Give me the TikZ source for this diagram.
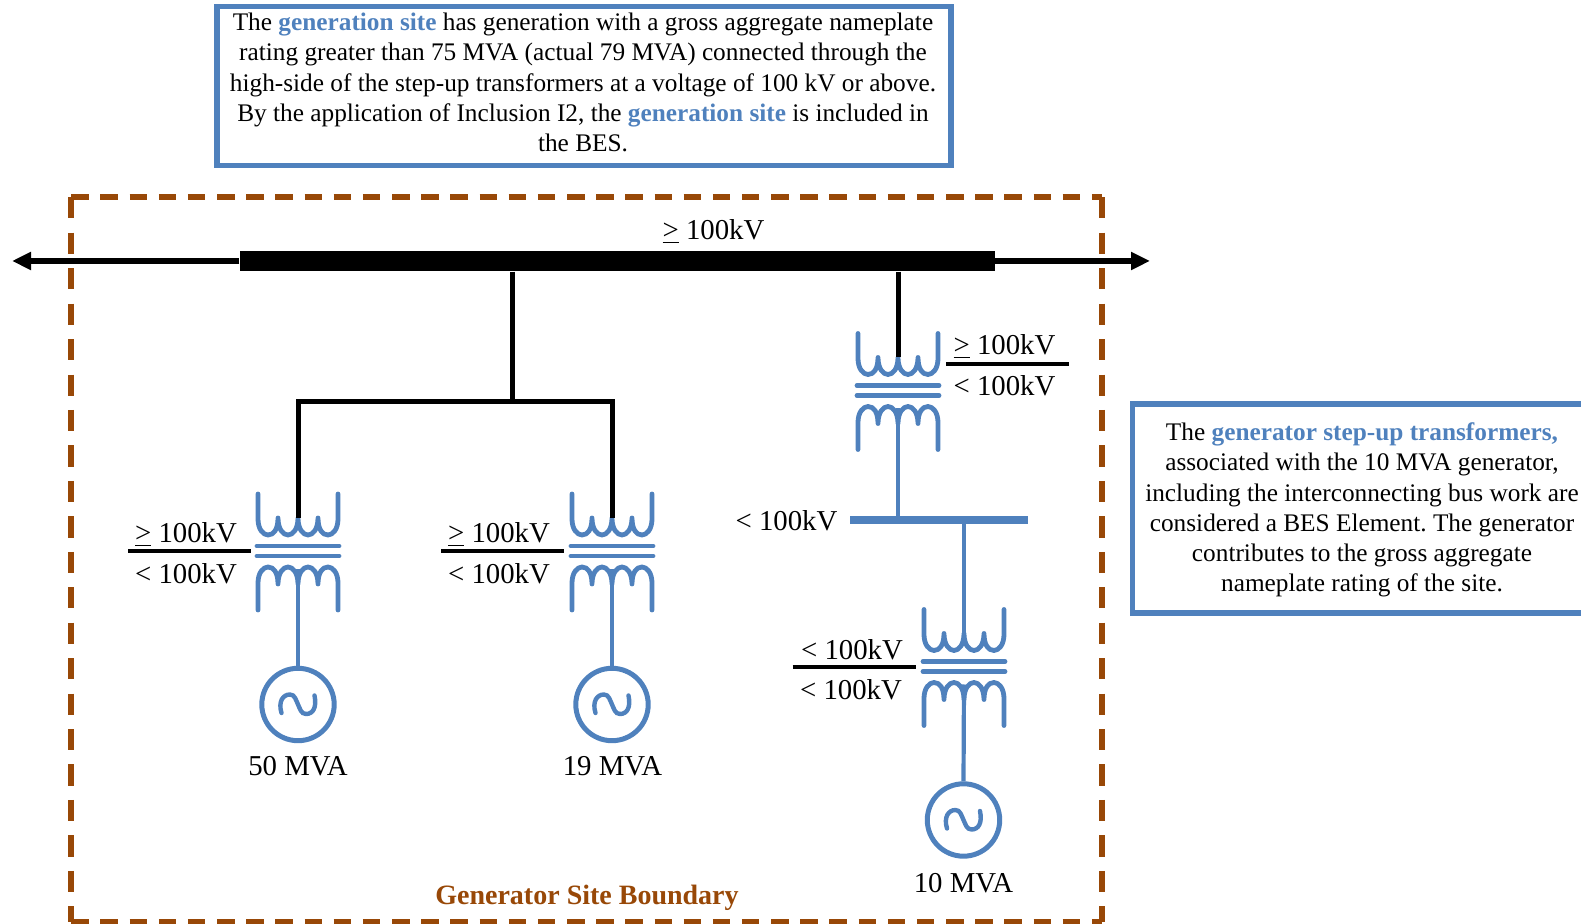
\documentclass[tikz,border=0pt]{standalone}
\usepackage{fontspec}
\setmainfont{Liberation Serif}
\usetikzlibrary{arrows.meta}
\definecolor{bl}{HTML}{4F81BD}
\definecolor{br}{HTML}{984807}
\newcommand{\bluebf}[1]{\textcolor{bl}{\textbf{#1}}}
\newcommand{\ugt}{\underline{>}}
\tikzset{
  x=0.5pt,y=-0.5pt,
  every node/.style={inner sep=0pt},
  label/.style={align=center,font=\fontsize{14.4}{17}\selectfont},
  para/.style={align=center,font=\fontsize{12.65}{15.12}\selectfont\frenchspacing},
  rule/.style={draw=black,line width=2pt},
  wire/.style={draw=black,line width=2.5pt},
  bwire/.style={draw=bl,line width=2.1pt},
  coil/.style={draw=bl,line width=2.4pt,line cap=round,line join=round},
  tipline/.style={draw=black,line width=2.6pt,-{Triangle[length=9.5pt,width=8.5pt]}},
  infobox/.style={draw=bl,line width=2.6pt},
  hdash/.style={draw=br,line width=2.85pt,dash pattern=on 8.75pt off 5.83pt},
  vdash/.style={draw=br,line width=2.85pt,dash pattern=on 10.6pt off 7.125pt},
  gen/.style={circle,draw=bl,line width=2.5pt,minimum size=36.2pt,
    path picture={\begin{scope}[shift={(path picture bounding box.center)}]
      \draw[bl,line width=2.2pt,line cap=round] (-16.5,8.5)
      .. controls (-20,-3) and (-15,-10) .. (-8,-10)
      .. controls (-3,-10) and (-2,-4) .. (0,0)
      .. controls (2,4) and (3,9.5) .. (8,9.5)
      .. controls (15,9.5) and (19,3) .. (16.5,-9);\end{scope}}},
  pics/xfmr/.style={code={
    \path[coil] (-40,-57) -- (-40,-32)
      .. controls (-40,-22) and (-35,-16) .. (-30,-16)
      .. controls (-24,-16) and (-20,-22) .. (-20,-33)
      .. controls (-20,-22) and (-15,-16) .. (-10,-16)
      .. controls (-5,-16) and (0,-22) .. (0,-33)
      .. controls (0,-22) and (5,-16) .. (10,-16)
      .. controls (15,-16) and (20,-22) .. (20,-33)
      .. controls (20,-22) and (24,-16) .. (30,-16)
      .. controls (35,-16) and (40,-22) .. (40,-32) -- (40,-57);
    \path[coil] (-40,59) -- (-40,32)
      .. controls (-40,22) and (-35,16) .. (-30,16)
      .. controls (-24,16) and (-20,22) .. (-20,33)
      .. controls (-20,22) and (-15,16) .. (-10,16)
      .. controls (-5,16) and (0,22) .. (0,33)
      .. controls (0,22) and (5,16) .. (10,16)
      .. controls (15,16) and (20,22) .. (20,33)
      .. controls (20,22) and (24,16) .. (30,16)
      .. controls (35,16) and (40,22) .. (40,32) -- (40,59);
    \path[coil] (-41,-5) -- (41,-5) (-41,5) -- (41,5);
    \coordinate (-top) at (0,-33);
    \coordinate (-mid) at (0,18);
  }}
}
\begin{document}
\begin{tikzpicture}
\useasboundingbox (0,0) rectangle (1581,924);
% boundary
\coordinate (nw) at (71.3,197.3); \coordinate (ne) at (1102,197.3);
\coordinate (sw) at (71.3,921.7); \coordinate (se) at (1102,921.7);
\path[hdash] (nw) -- (ne);
\path[hdash] (sw) -- (se);
\path[vdash] (nw) -- (sw);
\path[vdash] (ne) -- (se);
% text box top
\node[infobox,minimum width=367pt,minimum height=79.7pt] (topbox) at (584,86.2) {};
\node[para] (toptext) at (583,82.5) {The \bluebf{generation site} has generation with a gross aggregate nameplate\\
rating greater than 75 MVA (actual 79 MVA) connected through the\\
high-side of the step-up transformers at a voltage of 100 kV or above.\\
By the application of Inclusion I2, the \bluebf{generation site} is included in\\
the BES.};
% bus
\node[fill=black,minimum width=377.5pt,minimum height=10.25pt] (bus) at (617.25,261) {};
\coordinate (lefttip) at (12,261);
\coordinate (righttip) at (1150,261);
\path[tipline] (bus.west) -- (lefttip);
\path[tipline] (bus.east) -- (righttip);
\node[label] (lblbus) at (713.5,232) {\ugt{} 100kV};
% transformers
\pic (t1) at (298,551) {xfmr};
\pic (t2) at (612,551) {xfmr};
\pic (t3) at (898,390.5) {xfmr};
\pic (t4) at (964,666.5) {xfmr};
% black wiring
\coordinate (j) at (512,402);
\path[wire] (bus.south -| j) -- (j);
\path[wire] (t1-top) -- (t1-top |- j) -- (t2-top |- j) -- (t2-top);
\path[wire] (bus.south -| t3-top) -- (t3-top);
% lv bus
\node[fill=bl,minimum width=89pt,minimum height=4pt] (lv) at (939,520) {};
\path[bwire] (t3-mid) -- (t3-mid |- lv.north);
\path[bwire] (lv.south -| t4-top) -- (t4-top);
\node[label] (lbllv) at (786.5,521) {< 100kV};
% generators
\node[gen] (g1) at (298,704.5) {};
\node[gen] (g2) at (612,704.5) {};
\node[gen] (g3) at (963.5,820) {};
\path[bwire] (t1-mid) -- (g1.north);
\path[bwire] (t2-mid) -- (g2.north);
\path[bwire] (t4-mid) -- (g3.north);
\node[label] (m1) at (298,766.5) {50 MVA};
\node[label] (m2) at (612.5,766.5) {19 MVA};
\node[label] (m3) at (963.5,883.5) {10 MVA};
% ratio labels
\coordinate (r1a) at (128,551.5); \coordinate (r1b) at (251,551.5);
\coordinate (r2a) at (441,551.5); \coordinate (r2b) at (564,551.5);
\coordinate (r3a) at (946,364); \coordinate (r3b) at (1069,364);
\coordinate (r4a) at (792.5,667.5); \coordinate (r4b) at (916,667.5);
\path[rule] (r1a) -- (r1b);
\path[rule] (r2a) -- (r2b);
\path[rule] (r3a) -- (r3b);
\path[rule] (r4a) -- (r4b);
\node[label] (u1) at (186,534.5) {\ugt{} 100kV};
\node[label] (d1) at (186,574) {< 100kV};
\node[label] (u2) at (499,534.5) {\ugt{} 100kV};
\node[label] (d2) at (499,574) {< 100kV};
\node[label] (u3) at (1004.5,347) {\ugt{} 100kV};
\node[label] (d3) at (1004.5,386) {< 100kV};
\node[label] (u4) at (852,650) {< 100kV};
\node[label] (d4) at (851,689.5) {< 100kV};
% right box
\coordinate (ra) at (1581,404); \coordinate (rb) at (1132.5,404);
\coordinate (rc) at (1132.5,613); \coordinate (rd) at (1581,613);
\path[infobox] (ra) -- (rb) -- (rc) -- (rd);
\node[para] (righttext) at (1362,510) {The \bluebf{generator step-up transformers,}\\
associated with the 10 MVA generator,\\
including the interconnecting bus work are\\
considered a BES Element. The generator\\
contributes to the gross aggregate\\
nameplate rating of the site.};
\node[label,text=br,font=\fontsize{14}{17}\selectfont] (site) at (587,898) {\textbf{Generator Site Boundary}};
\end{tikzpicture}
\end{document}
